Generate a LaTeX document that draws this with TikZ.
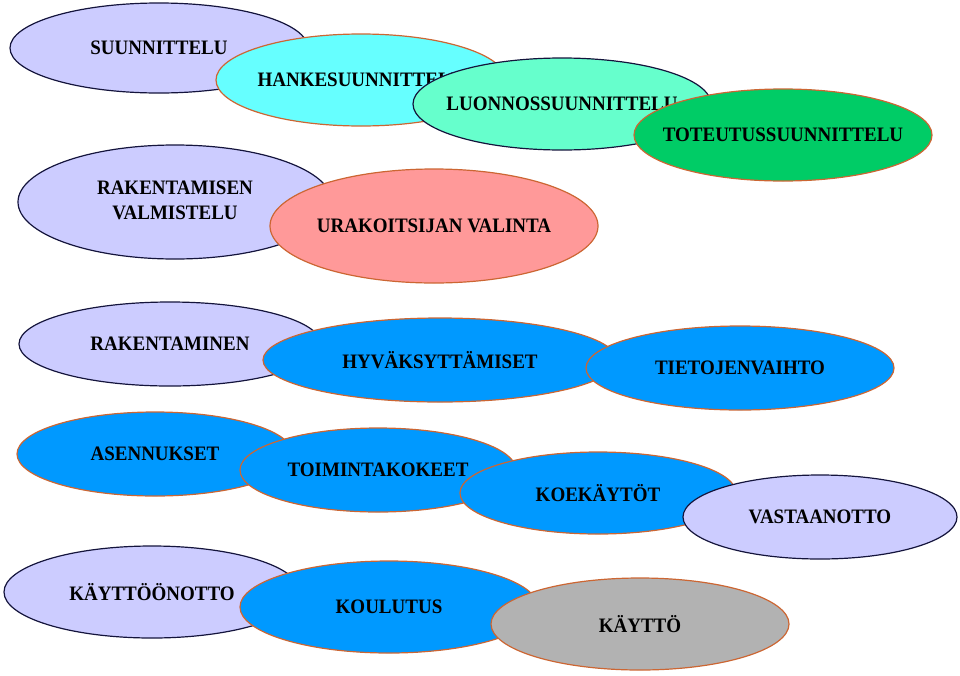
\documentclass[tikz,border=0pt]{standalone}
\usepackage{fontspec}
\setmainfont{Liberation Serif}
\usetikzlibrary{shapes.geometric}
\definecolor{lav}{RGB}{204,204,255}
\definecolor{cyanf}{RGB}{102,255,255}
\definecolor{mintf}{RGB}{102,255,204}
\definecolor{greenf}{RGB}{0,204,102}
\definecolor{pinkf}{RGB}{255,153,153}
\definecolor{bluef}{RGB}{0,153,255}
\definecolor{grayf}{RGB}{178,178,178}
\definecolor{navyline}{RGB}{20,20,60}
\definecolor{orangeline}{RGB}{204,102,51}
\newcommand{\zt}[1]{\makebox[0pt]{\scalebox{1}[1.08]{#1}}}
\tikzset{
  ell/.style={ellipse, inner sep=0pt, line width=1.2pt,
    font=\fontsize{19}{22}\selectfont\bfseries, text=black},
  darkell/.style={ell, draw=navyline, fill=lav},
  orell/.style={ell, draw=orangeline},
}
\begin{document}
\begin{tikzpicture}[x=1pt,y=-1pt]
\useasboundingbox (0,0) rectangle (960,675);
% row 1
\node[darkell, minimum width=298pt, minimum height=90pt] (suun) at (159,48) {\zt{SUUNNITTELU}};
\node[orell, fill=cyanf, minimum width=290pt, minimum height=92pt] (hanke) at (361,80) {\zt{HANKESUUNNITTELU}};
\node[ell, draw=navyline, fill=mintf, minimum width=298pt, minimum height=92pt] (luon) at (562,104) {\zt{LUONNOSSUUNNITTELU}};
\node[orell, fill=greenf, minimum width=298pt, minimum height=92pt] (tot) at (783,135) {\zt{TOTEUTUSSUUNNITTELU}};
% row 2
\node[darkell, minimum width=314pt, minimum height=114pt] (rval) at (175,202) {\zt{\begin{tabular}{@{}c@{}}RAKENTAMISEN\\[1pt]VALMISTELU\end{tabular}}};
\node[orell, fill=pinkf, minimum width=328pt, minimum height=114pt] (ura) at (434,226) {\zt{URAKOITSIJAN VALINTA}};
% row 3
\node[darkell, minimum width=302pt, minimum height=84pt] (rak) at (170,344) {\zt{RAKENTAMINEN}};
\node[orell, fill=bluef, minimum width=354pt, minimum height=84pt] (hyv) at (440,360) {\zt{HYVÄKSYTTÄMISET}};
\node[orell, fill=bluef, minimum width=308pt, minimum height=84pt] (tieto) at (740,368) {\zt{TIETOJENVAIHTO}};
% row 4
\node[orell, fill=bluef, minimum width=276pt, minimum height=84pt] (asen) at (155,454) {\zt{ASENNUKSET}};
\node[orell, fill=bluef, minimum width=276pt, minimum height=84pt] (toim) at (378,470) {\zt{TOIMINTAKOKEET}};
\node[orell, fill=bluef, minimum width=276pt, minimum height=82pt] (koe) at (598,493) {\zt{KOEKÄYTÖT}};
\node[darkell, minimum width=274pt, minimum height=84pt] (vast) at (820,517) {\zt{VASTAANOTTO}};
% row 5
\node[darkell, minimum width=296pt, minimum height=92pt] (kot) at (152,592) {\zt{KÄYTTÖÖNOTTO}};
\node[orell, fill=bluef, minimum width=298pt, minimum height=92pt] (koul) at (389,607) {\zt{KOULUTUS}};
\node[orell, fill=grayf, minimum width=298pt, minimum height=92pt] (kaytto) at (640,624) {\zt{KÄYTTÖ}};
\end{tikzpicture}
\end{document}
